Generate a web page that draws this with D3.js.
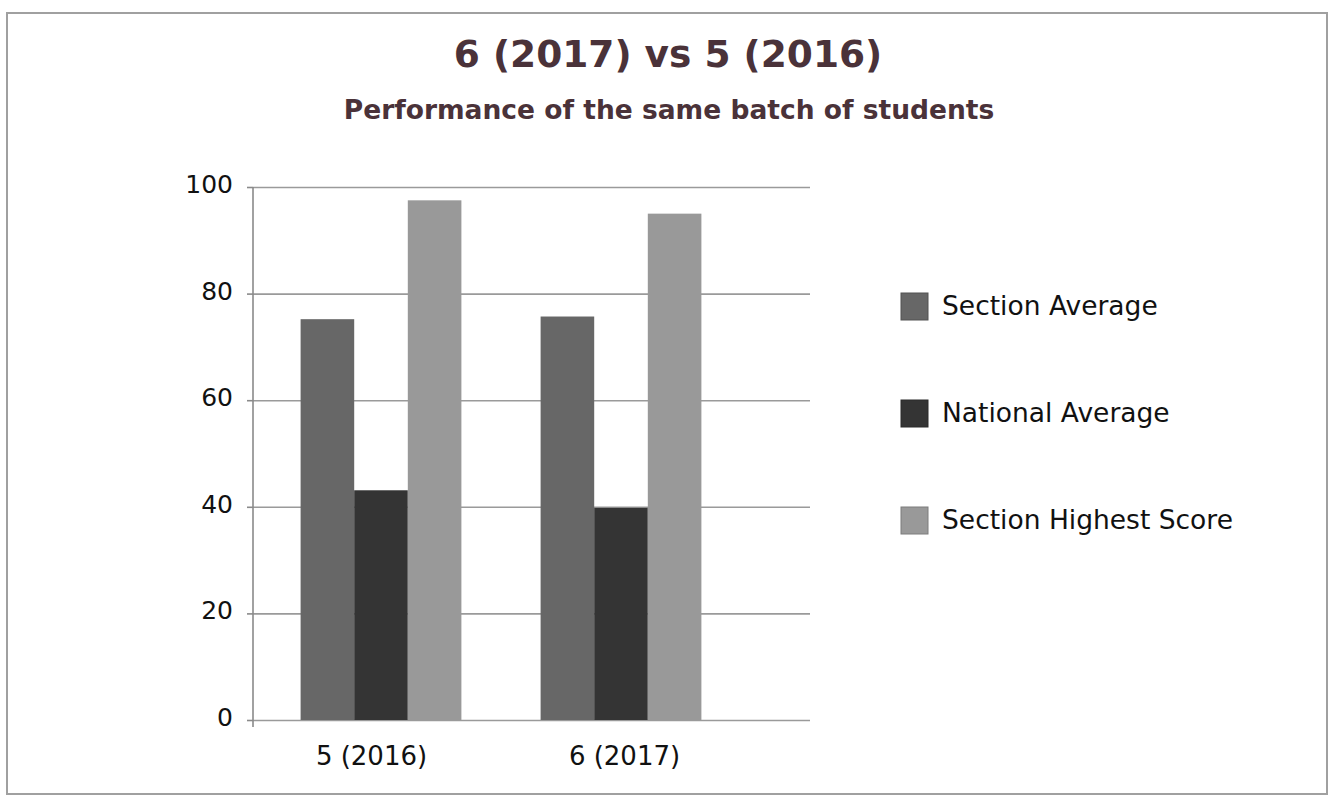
<!DOCTYPE html>
<html>
<head>
<meta charset="utf-8">
<script src="https://cdn.jsdelivr.net/npm/d3@7"></script>
<style>
  body { margin: 0; background: #fff; }
  svg { display: block; font-family: "DejaVu Sans", sans-serif; }
</style>
</head>
<body>
<div id="chart"></div>
<script>
// data
var categories = ["5 (2016)", "6 (2017)"];
var seriesNames = ["Section Average", "National Average", "Section Highest Score"];
var sectionAverage = [75.2, 75.7];
var nationalAverage = [43.1, 39.8];
var sectionHighest = [97.5, 95.0];
var yTicks = [0, 20, 40, 60, 80, 100];

var colors = ["#676767", "#343434", "#999999"];

var width = 1328, height = 795;
var font = "DejaVu Sans";

var svg = d3.select("#chart")
  .append("svg")
    .attr("width", width)
    .attr("height", height);

// outer frame
svg.append("rect")
  .attr("x", 7)
  .attr("y", 13)
  .attr("width", 1320)
  .attr("height", 781)
  .style("fill", "none")
  .style("stroke", "#a0a0a0")
  .style("stroke-width", 2);

// titles
svg.append("text")
  .attr("x", 668)
  .attr("y", 67)
  .attr("text-anchor", "middle")
  .style("font-weight", "bold")
  .style("font-size", "37.5px")
  .style("fill", "#4a3239")
  .text("6 (2017) vs 5 (2016)");

svg.append("text")
  .attr("x", 669)
  .attr("y", 119)
  .attr("text-anchor", "middle")
  .style("font-weight", "bold")
  .style("font-size", "26.5px")
  .style("fill", "#4a3239")
  .text("Performance of the same batch of students");

var plotLeft = 253, plotRight = 810;

var yScale = d3.scaleLinear().domain([0, 100]).range([720, 187]);

var x0 = d3.scaleBand()
  .domain(categories)
  .range([261, 741])
  .paddingInner(0.33)
  .paddingOuter(0.165);

var x1 = d3.scaleBand()
  .domain(seriesNames)
  .range([0, x0.bandwidth()]);

// category labels sit a little apart from the bar groups in the original
var xLabel = d3.scalePoint()
  .domain(categories)
  .range([371, 624]);

var table = categories.map(function (c, i) {
  return {
    category: c,
    values: [sectionAverage[i], nationalAverage[i], sectionHighest[i]]
  };
});

// grid lines
var grid = svg.append("g")
  .attr("transform", "translate(" + plotLeft + ",0)")
  .call(d3.axisRight(yScale).tickValues(yTicks).tickSize(plotRight - plotLeft).tickFormat(""));
grid.select(".domain").remove();
grid.selectAll(".tick line")
  .style("stroke", "#9a9a9a")
  .style("stroke-width", 1.6);

// bars
var groups = svg.append("g")
  .selectAll("g")
  .data(table)
  .enter()
  .append("g")
    .attr("transform", function (d) { return "translate(" + x0(d.category) + ",0)"; });

groups.selectAll("rect")
  .data(function (d) { return d.values.map(function (v, j) { return {name: seriesNames[j], value: v, j: j}; }); })
  .enter()
  .append("rect")
    .attr("x", function (d) { return x1(d.name); })
    .attr("y", function (d) { return yScale(d.value); })
    .attr("width", x1.bandwidth())
    .attr("height", function (d) { return yScale(0) - yScale(d.value); })
    .style("fill", function (d) { return colors[d.j]; });

// y axis
var yAxis = svg.append("g")
  .attr("transform", "translate(" + plotLeft + ",0)")
  .call(d3.axisLeft(yScale).tickValues(yTicks).tickSizeInner(6).tickSizeOuter(0).tickPadding(14));
yAxis.attr("font-family", font);
yAxis.select(".domain").remove();
yAxis.selectAll(".tick line").style("stroke", "#8a8a8a").style("stroke-width", 1.6);
yAxis.selectAll(".tick text")
  .style("font-size", "25px")
  .style("fill", "#111")
  .attr("dy", "0.22em");
yAxis.append("line")
  .attr("y1", yScale(100))
  .attr("y2", yScale(0) + 7)
  .style("stroke", "#8a8a8a")
  .style("stroke-width", 1.6);

// x axis labels
var xAxis = svg.append("g")
  .attr("transform", "translate(0," + yScale(0) + ")")
  .call(d3.axisBottom(xLabel).tickSize(0).tickPadding(27));
xAxis.attr("font-family", font);
xAxis.select(".domain").remove();
xAxis.selectAll(".tick text")
  .style("font-size", "26px")
  .style("fill", "#111");

// legend
var legend = svg.append("g")
  .selectAll("g")
  .data(seriesNames)
  .enter()
  .append("g")
    .attr("transform", function (d, i) { return "translate(901," + (293 + i * 107) + ")"; });

legend.append("rect")
  .attr("width", 27)
  .attr("height", 27)
  .style("fill", function (d, i) { return colors[i]; })
  .style("stroke", function (d, i) { return d3.color(colors[i]).darker(0.6); })
  .style("stroke-width", 1);

legend.append("text")
  .attr("x", 41)
  .attr("y", 22)
  .style("font-size", "26.5px")
  .style("fill", "#111")
  .text(function (d) { return d; });
</script>
</body>
</html>
